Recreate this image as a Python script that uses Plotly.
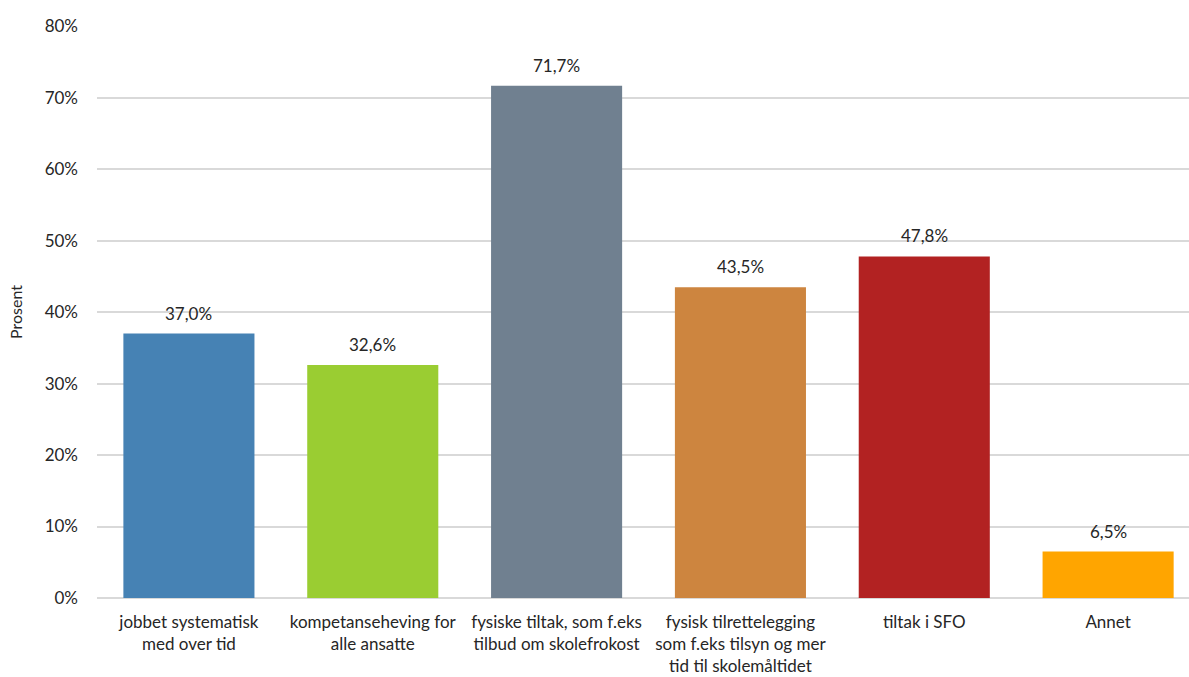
import plotly.graph_objects as go

categories = [
    "jobbet systematisk<br>med over tid",
    "kompetanseheving for<br>alle ansatte",
    "fysiske tiltak, som f.eks<br>tilbud om skolefrokost",
    "fysisk tilrettelegging<br>som f.eks tilsyn og mer<br>tid til skolemåltidet",
    "tiltak i SFO",
    "Annet",
]
values = [37.0, 32.6, 71.7, 43.5, 47.8, 6.5]
colors = ["#4682B4", "#9ACD32", "#708090", "#CD853F", "#B22222", "#FFA500"]
y_ticks = [0, 10, 20, 30, 40, 50, 60, 70, 80]

labels = [f"{v:.1f}".replace(".", ",") + "%" for v in values]
text_color = "#262626"
font_family = "Lato, Noto Sans, sans-serif"

fig = go.Figure(
    go.Bar(
        x=categories,
        y=values,
        marker=dict(color=colors, line=dict(width=0)),
        showlegend=False,
    )
)

# value labels sitting a little above each bar
for cat, val, lab in zip(categories, values, labels):
    fig.add_annotation(
        x=cat,
        y=val,
        text=lab,
        showarrow=False,
        yanchor="bottom",
        yshift=8,
        font=dict(family=font_family, size=17, color=text_color),
    )

fig.update_layout(
    width=1189,
    height=677,
    margin=dict(l=97, r=0, t=26, b=79),
    paper_bgcolor="white",
    plot_bgcolor="white",
    font=dict(family=font_family, size=17, color=text_color),
    bargap=0.287,
)
fig.update_xaxes(
    range=[-0.5, 5.44],
    showgrid=False,
    showline=False,
    ticks="",
    automargin=False,
    ticklabelstandoff=12,
    tickfont=dict(size=17, color=text_color),
)
fig.update_yaxes(
    range=[0, 80.05],
    tickvals=y_ticks,
    ticktext=[f"{t}%" for t in y_ticks],
    showgrid=True,
    gridcolor="#D9D9D9",
    gridwidth=1.5,
    zeroline=True,
    zerolinecolor="#D9D9D9",
    zerolinewidth=1.5,
    ticks="",
    ticklabelstandoff=18,
    automargin=False,
    tickfont=dict(size=17, color=text_color),
    title=dict(text="Prosent", font=dict(size=16, color=text_color), standoff=18),
)

fig.write_html("out.html")
